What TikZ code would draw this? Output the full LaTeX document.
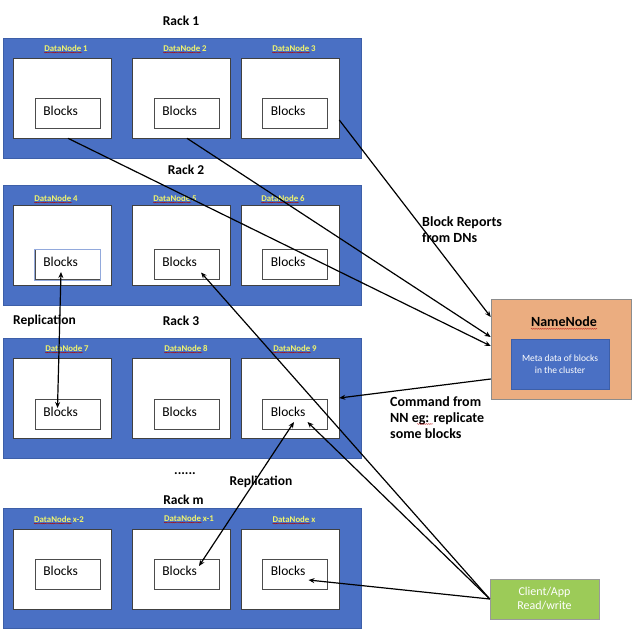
\documentclass[tikz,border=0pt]{standalone}
\usepackage{fontspec}
\setmainfont{Carlito}
\usetikzlibrary{arrows.meta,decorations.pathmorphing}
\definecolor{rackblue}{HTML}{4A70C4}
\definecolor{rackedge}{HTML}{3D5FA8}
\definecolor{nnorange}{HTML}{EBAD80}
\definecolor{clgreen}{HTML}{9CCB58}
\definecolor{dnyellow}{HTML}{F2F56A}
\begin{document}
\begin{tikzpicture}[x=1pt,y=-1pt,
  rack/.style={draw=rackedge,fill=rackblue,line width=0.5pt,minimum width=358pt,minimum height=120pt,inner sep=0pt},
  dnbox/.style={draw=black!75,fill=white,line width=0.6pt,minimum width=98pt,minimum height=80pt,inner sep=0pt},
  blk/.style={draw=black!70,fill=white,line width=0.6pt,minimum width=65pt,minimum height=30pt,inner sep=0pt},
  blktext/.style={font=\fontsize{13.5}{15}\selectfont,anchor=west,inner sep=0pt},
  dnlab/.style={font=\bfseries\fontsize{8.8}{10}\selectfont,text=dnyellow,inner sep=0pt},
  title/.style={font=\bfseries\fontsize{13.5}{15}\selectfont,inner sep=0pt},
  lab/.style={font=\bfseries\fontsize{14}{16}\selectfont,inner sep=0pt,anchor=base west},
  spell/.style={draw=red!70!black,line width=0.3pt,decorate,decoration={snake,segment length=1.8pt,amplitude=0.4pt}},
  arr/.style={draw=black,line width=1.2pt,-{Stealth[length=6pt,width=5pt]}},
  darr/.style={draw=black,line width=1.2pt,{Stealth[length=6pt,width=5pt]}-{Stealth[length=6pt,width=5pt]}}
]
\useasboundingbox (0,0) rectangle (633,630);

% racks
\node[rack] (r1) at (182,98) {};
\node[rack] (r2) at (182,245.5) {};
\node[rack] (r3) at (182,398) {};
\node[rack] (r4) at (182,568.5) {};

\node[title] (t1) at (181,20.5) {Rack 1};
\node[title] (t2) at (186,169.5) {Rack 2};
\node[title] (t3) at (181,321) {Rack 3};
\node[title] (t4) at (183.5,500) {Rack m};
\node[title] (dots) at (185,474) {......};
\node[title] (rep1) at (44.5,321) {Replication};
\node[title] (rep2) at (261,482) {Replication};

% data node boxes
\foreach \yd/\i in {98/1, 245.5/2, 398/3, 569/4}{
  \node[dnbox] (dn\i a) at (62,\yd) {};
  \node[dnbox] (dn\i b) at (181.5,\yd) {};
  \node[dnbox] (dn\i c) at (290,\yd) {};
}
% blocks
\foreach \yb/\i in {113.5/1, 264.5/2, 414.5/3, 574/4}{
  \node[blk] (b\i a) at (67.5,\yb) {};
  \node[blk] (b\i b) at (186.5,\yb) {};
  \node[blk] (b\i c) at (295,\yb) {};
  \node[blktext] at ([xshift=8.5pt,yshift=3pt]b\i a.west) {Blocks};
  \node[blktext] at ([xshift=8.5pt,yshift=3pt]b\i b.west) {Blocks};
  \node[blktext] at ([xshift=8.5pt,yshift=3pt]b\i c.west) {Blocks};
}
\draw[draw=rackblue!60!white,line width=0.6pt] (b2a.south west) rectangle (b2a.north east);

% data node labels
\foreach \x/\y/\t/\n in {66/48/1/l1, 185/48/2/l2, 294/48/3/l3,
                         56/198/4/l4, 175/198/5/l5, 283/198/6/l6,
                         67/348/7/l7, 186/348/8/l8, 295/348/9/l9,
                         59/519/x-2/l10, 189/518/x-1/l11, 294/519/x/l12}{
  \node[dnlab] (\n) at (\x,\y) {DataNode \t};
  \draw[spell] ([yshift=-1.5pt]\n.base west) -- ([yshift=-1.5pt,xshift=38pt]\n.base west);
}

% NameNode
\node[draw=black!45,fill=nnorange,line width=0.5pt,minimum width=140pt,minimum height=100pt,inner sep=0pt] (nn) at (561,349) {};
\node[draw=rackedge,fill=rackblue,line width=0.5pt,minimum width=98pt,minimum height=50pt,inner sep=0pt,
      text=white,align=center,font=\fontsize{9.5}{11.5}\selectfont] (meta) at (560,364) {Meta data of blocks\\in the cluster};
\node[font=\bfseries\fontsize{14}{16}\selectfont,inner sep=0pt] (nnt) at (564,322) {NameNode};
\draw[spell] ([yshift=-2pt]nnt.base west) -- ([yshift=-2pt]nnt.base east);

% Client
\node[draw=black!40,fill=clgreen,line width=0.5pt,minimum width=109pt,minimum height=40pt,inner sep=0pt,
      text=white,align=center,font=\fontsize{12}{14}\selectfont] (cl) at (544.5,599) {Client/App\\Read/write};

% text labels
\node[lab] (br1) at (422,226) {Block Reports};
\node[lab] (br2) at (422,242) {from DNs};
\node[lab] (cm1) at (390,406) {Command from};
\node[lab] (cm2) at (390,422) {NN eg: replicate};
\node[lab] (cm3) at (390,438) {some blocks};
\draw[spell] ([yshift=-2pt,xshift=27pt]cm2.base west) -- ([yshift=-2pt,xshift=43pt]cm2.base west);

% block reports
\draw[arr] ([xshift=6pt]dn1a.south) -- ([yshift=3pt]nn.west);
\draw[arr] ([xshift=5.5pt]dn1b.south) -- ([yshift=12pt]nn.west);
\draw[arr] ([yshift=-22pt]dn1c.east) -- ([yshift=32pt]nn.west);

% command
\draw[arr] ([yshift=-30pt]nn.west) -- (dn3c.east);

% replication 1
\draw[darr] ([xshift=-6.5pt,yshift=-7.5pt]b2a.center) -- ([xshift=-10pt,yshift=6.5pt]b3a.center);

% client
\draw[arr] (cl.west) -- ([xshift=14.5pt,yshift=-8pt]b2b.center);
\draw[arr] (cl.west) -- ([xshift=12.5pt,yshift=-7.5pt]b3c.center);
\draw[arr] (cl.west) -- ([xshift=13.5pt,yshift=-6pt]b4c.center);

% replication 2
\draw[darr] ([xshift=-1pt,yshift=-7.5pt]b3c.center) -- ([xshift=12.5pt,yshift=8pt]b4b.center);
\end{tikzpicture}
\end{document}
